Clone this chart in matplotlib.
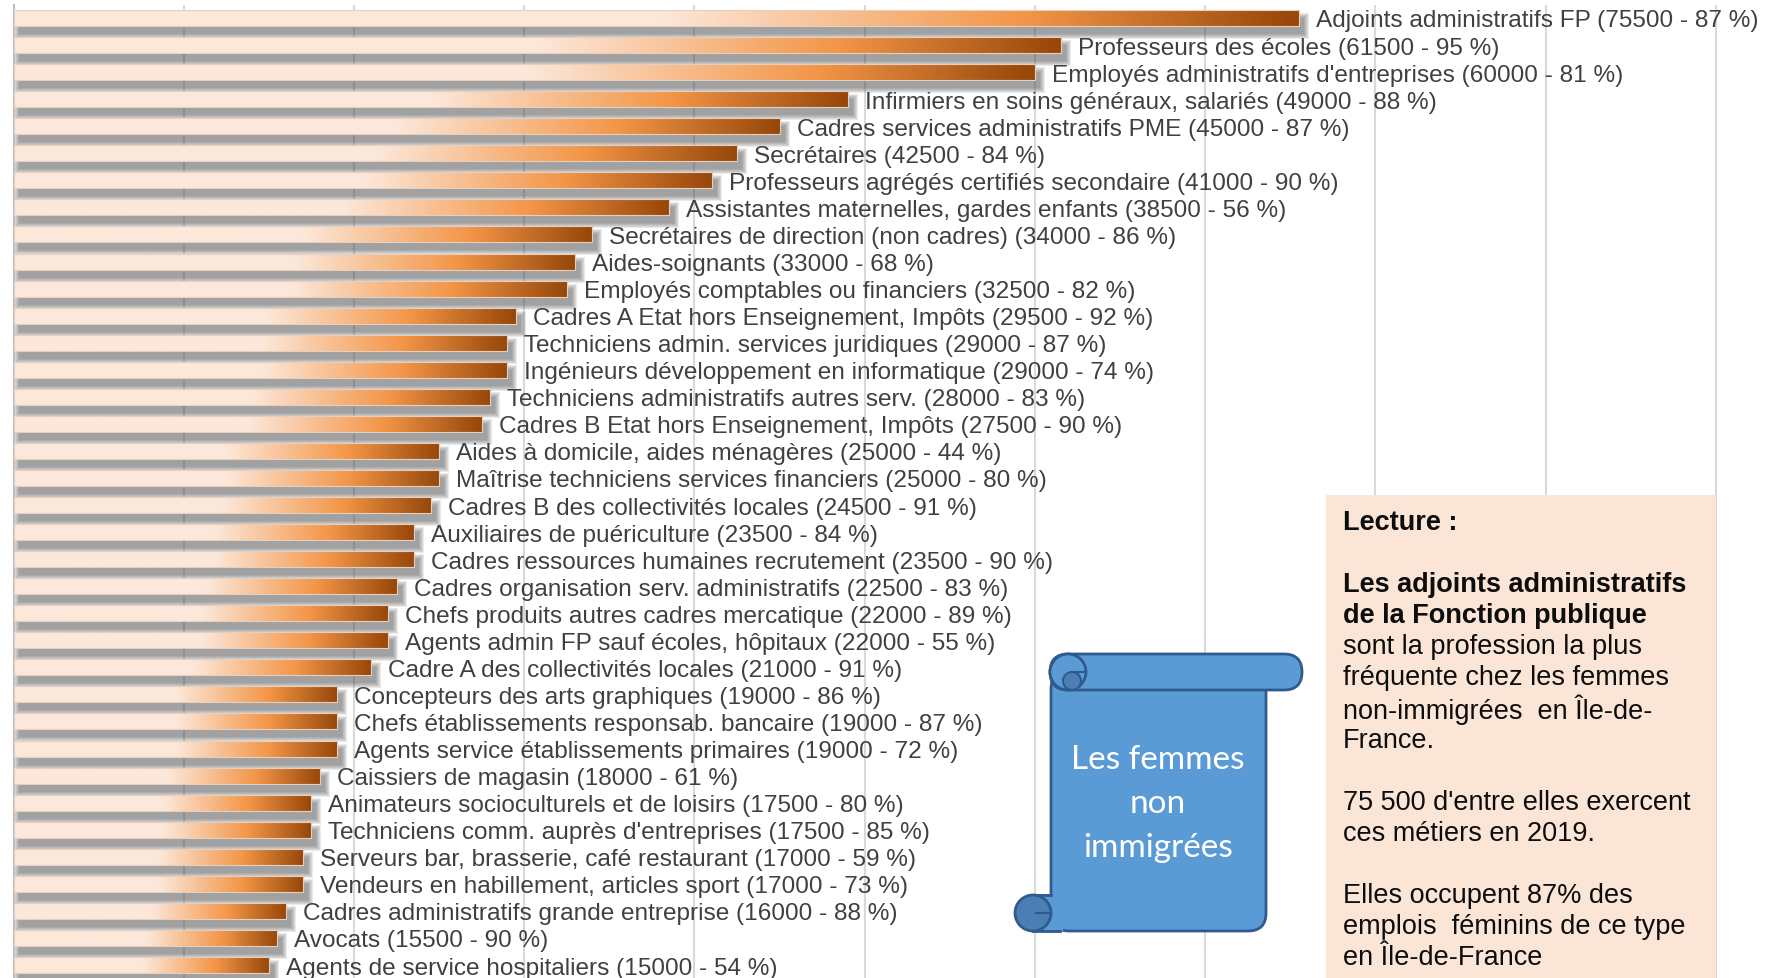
import numpy as np
import matplotlib.pyplot as plt
from matplotlib.colors import LinearSegmentedColormap
from matplotlib.patches import Rectangle, FancyBboxPatch, Circle

plt.rcParams['font.family'] = ['Liberation Sans', 'DejaVu Sans']

# métiers les plus fréquents chez les femmes non immigrées (IdF, 2019)
metiers = [
    "Adjoints administratifs FP",
    "Professeurs des écoles",
    "Employés administratifs d'entreprises",
    "Infirmiers en soins généraux, salariés",
    "Cadres services administratifs PME",
    "Secrétaires",
    "Professeurs agrégés certifiés secondaire",
    "Assistantes maternelles, gardes enfants",
    "Secrétaires de direction (non cadres)",
    "Aides-soignants",
    "Employés comptables ou financiers",
    "Cadres A Etat hors Enseignement, Impôts",
    "Techniciens admin. services juridiques",
    "Ingénieurs développement en informatique",
    "Techniciens administratifs autres serv.",
    "Cadres B Etat hors Enseignement, Impôts",
    "Aides à domicile, aides ménagères",
    "Maîtrise techniciens services financiers",
    "Cadres B des collectivités locales",
    "Auxiliaires de puériculture",
    "Cadres ressources humaines recrutement",
    "Cadres organisation serv. administratifs",
    "Chefs produits autres cadres mercatique",
    "Agents admin FP sauf écoles, hôpitaux",
    "Cadre A des collectivités locales",
    "Concepteurs des arts graphiques",
    "Chefs établissements responsab. bancaire",
    "Agents service établissements primaires",
    "Caissiers de magasin",
    "Animateurs socioculturels et de loisirs",
    "Techniciens comm. auprès d'entreprises",
    "Serveurs bar, brasserie, café restaurant",
    "Vendeurs en habillement, articles sport",
    "Cadres administratifs grande entreprise",
    "Avocats",
    "Agents de service hospitaliers",
]
effectifs = [75500, 61500, 60000, 49000, 45000, 42500, 41000, 38500, 34000, 33000,
             32500, 29500, 29000, 29000, 28000, 27500, 25000, 25000, 24500, 23500,
             23500, 22500, 22000, 22000, 21000, 19000, 19000, 19000, 18000, 17500,
             17500, 17000, 17000, 16000, 15500, 15000]
parts = [87, 95, 81, 88, 87, 84, 90, 56, 86, 68, 82, 92, 87, 74, 83, 90, 44, 80, 91, 84,
         90, 83, 89, 55, 91, 86, 87, 72, 61, 80, 85, 59, 73, 88, 90, 54]

lecture = [
    ("Lecture :", "bold"),
    ("", "normal"),
    ("Les adjoints administratifs", "bold"),
    ("de la Fonction publique", "bold"),
    ("sont la profession la plus", "normal"),
    ("fréquente chez les femmes", "normal"),
    ("non-immigrées  en Île-de-", "normal"),
    ("France.", "normal"),
    ("", "normal"),
    ("75 500 d'entre elles exercent", "normal"),
    ("ces métiers en 2019.", "normal"),
    ("", "normal"),
    ("Elles occupent 87% des", "normal"),
    ("emplois  féminins de ce type", "normal"),
    ("en Île-de-France", "normal"),
]
titre_parchemin = ["Les femmes", "non", "immigrées"]

W, H = 1768, 979
x0 = 13.5
fig = plt.figure(figsize=(W / 100, H / 100), dpi=100)
ax = fig.add_axes([x0 / W, 0, 1 - x0 / W, 973 / H])

n = len(metiers)
y = np.arange(n)
xmax = 100000 * (W - x0) / (1716 - x0)
ylim = (n - 0.52, -0.48)
px = xmax / (W - x0)               # data units per pixel (x)
py = (ylim[0] - ylim[1]) / 973     # data units per pixel (y)
h = 16 * py

# ombre portée floue
vals = np.array(effectifs)
for k in range(6):
    ax.barh(y + 8 * py, vals + 2 * k * px, left=(5 - k) * px,
            height=h + 2 * k * py, color='#555555', alpha=0.12, lw=0, zorder=1)

# barres en dégradé
cmap = LinearSegmentedColormap.from_list(
    'peche', [(0, '#FCE8DA'), (0.5, '#FCE8DA'), (0.79, '#F39547'), (1.0, '#974709')])
grad = np.linspace(0, 1, 256).reshape(1, -1)
bars = ax.barh(y, vals, height=h, color='none', edgecolor='#E6CFBE', lw=0.8, zorder=4)
for b in bars:
    im = ax.imshow(grad, extent=[b.get_x(), b.get_x() + b.get_width(),
                                 b.get_y() + b.get_height(), b.get_y()],
                   aspect='auto', cmap=cmap, interpolation='bilinear', zorder=3)
    im.set_clip_path(b)

for yi, v, m, p in zip(y, effectifs, metiers, parts):
    ax.text(v + 17 * px, yi + 2.5 * py, f"{m} ({v} - {p} %)", va='center', ha='left',
            fontsize=17.6, color='#404040', zorder=5)

ax.set_xlim(0, xmax)
ax.set_ylim(*ylim)
ax.set_xticks(range(10000, 100001, 10000))
ax.grid(axis='x', color='#D9D9D9', lw=1.5)
ax.set_axisbelow(True)
ax.tick_params(length=0, labelbottom=False, labelleft=False)
for s in ['top', 'right', 'bottom']:
    ax.spines[s].set_visible(False)
ax.spines['left'].set_color('#BFBFBF')
ax.spines['left'].set_linewidth(1.5)

# calque en pixels pour l'encadré et le parchemin
ov = fig.add_axes([0, 0, 1, 1], zorder=10)
ov.set_xlim(0, W)
ov.set_ylim(H, 0)
ov.axis('off')
ov.patch.set_alpha(0)

ov.add_patch(Rectangle((1326, 496), 390, 500, fc='#FBE5D6', lw=0))
for i, (ligne, poids) in enumerate(lecture):
    ov.text(1343, 523 + 31.1 * i, ligne, va='center', ha='left', fontsize=19.5,
            fontweight=poids, color='#0D0D0D')

bleu, bleu_f, bord = '#5B9BD5', '#4A7EB5', '#2F5A8E'
ov.add_patch(FancyBboxPatch((1051, 672), 215, 260, boxstyle='round,pad=0,rounding_size=18',
                            fc=bleu, ec=bord, lw=2))
ov.add_patch(Rectangle((1033, 895), 30, 37, fc=bleu, ec='none'))
ov.plot([1037, 1051], [896, 896], color=bord, lw=2)
ov.plot([1033, 1060], [932, 932], color=bord, lw=2)
ov.add_patch(Circle((1033, 914), 18, fc=bleu_f, ec=bord, lw=2))
ov.plot([1036, 1050], [914, 914], color=bord, lw=1.5)
ov.add_patch(FancyBboxPatch((1050, 655), 252, 36, boxstyle='round,pad=0,rounding_size=18',
                            fc=bleu, ec=bord, lw=2))
ov.add_patch(Circle((1068, 673), 18, fc=bleu, ec=bord, lw=2))
ov.add_patch(Circle((1072, 682), 9, fc=bleu_f, ec=bord, lw=1.5))
ov.plot([1072, 1085], [673, 673], color=bord, lw=1.5)
for i, t in enumerate(titre_parchemin):
    ov.text(1158, 760 + 44 * i, t, ha='center', va='center', fontsize=24,
            family='Lato', color='white')

fig.savefig('out.png', dpi=100)
